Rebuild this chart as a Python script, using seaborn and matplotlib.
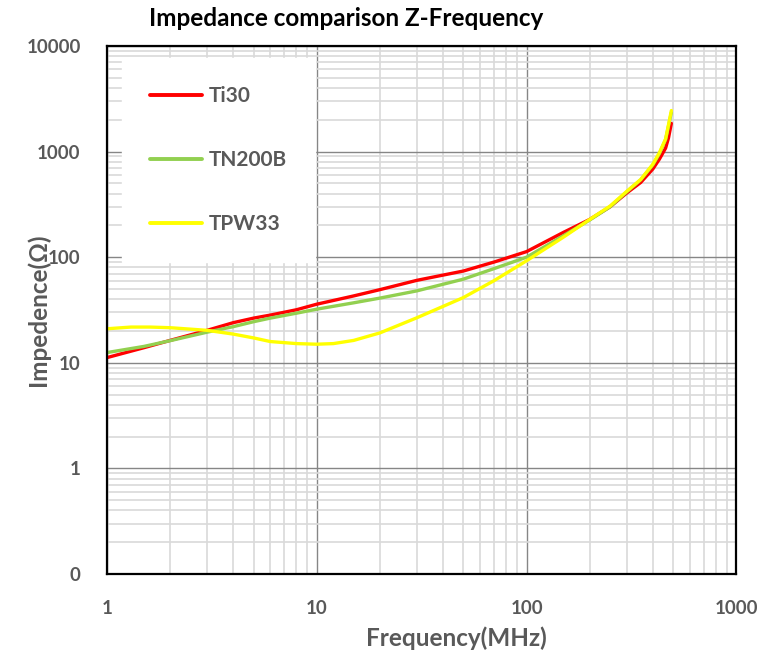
import numpy as np
import pandas as pd
import matplotlib
matplotlib.use("Agg")
import matplotlib.pyplot as plt
from matplotlib.ticker import FixedLocator, LogLocator, NullFormatter
import seaborn as sns

# Values (MHz, Ohm)
freq_ti30 = [1, 1.5, 2, 3, 4, 5, 6, 8, 10, 15, 20, 30, 50, 70, 100, 150, 200, 250, 300, 350, 400, 430, 460, 475, 490]
z_ti30 = [11.2, 13.9, 16.3, 20.3, 24.0, 26.5, 28.3, 31.8, 35.9, 43.0, 49.3, 60.4, 74.0, 90.0, 113, 172, 228, 300, 405, 510, 685, 850, 1080, 1350, 1850]

freq_tn200b = [1, 1.5, 2, 3, 4, 5, 6, 8, 10, 15, 20, 30, 50, 70, 100, 150, 200, 250, 300, 350, 400, 430, 460, 475, 490]
z_tn200b = [12.5, 14.3, 16.2, 19.5, 22.0, 24.5, 26.5, 29.5, 32.2, 37.0, 41.0, 48.0, 62.0, 78.0, 100, 160, 225, 300, 415, 540, 750, 960, 1300, 1750, 2350]

freq_tpw33 = [1, 1.3, 1.6, 2, 3, 4, 5, 6, 8, 10, 12, 15, 20, 30, 50, 70, 100, 150, 200, 250, 300, 350, 400, 430, 460, 475, 490]
z_tpw33 = [21.0, 21.8, 21.8, 21.5, 20.3, 18.7, 17.2, 15.9, 15.2, 15.0, 15.2, 16.3, 19.2, 26.7, 41.5, 60.0, 92.5, 155, 228, 305, 420, 545, 760, 980, 1320, 1800, 2450]

series_names = ["Ti30", "TN200B", "TPW33"]
series_colors = ["#FF0000", "#92D050", "#FFFF00"]

y_ticks = [0.1, 1, 10, 100, 1000, 10000]
y_tick_labels = ["0", "1", "10", "100", "1000", "10000"]
x_ticks = [1, 10, 100, 1000]
x_tick_labels = ["1", "10", "100", "1000"]

df = pd.concat([
    pd.DataFrame({"freq": freq_ti30, "z": z_ti30, "name": "Ti30"}),
    pd.DataFrame({"freq": freq_tn200b, "z": z_tn200b, "name": "TN200B"}),
    pd.DataFrame({"freq": freq_tpw33, "z": z_tpw33, "name": "TPW33"}),
])

sns.set_style("white")
plt.rcParams["font.family"] = ["Lato", "DejaVu Sans"]
plt.rcParams["font.weight"] = "bold"

fig = plt.figure(figsize=(7.61, 6.51), dpi=100)
ax = fig.add_axes([0.1406, 0.1183, 0.827, 0.811])

sns.lineplot(data=df, x="freq", y="z", hue="name", hue_order=series_names,
             palette=dict(zip(series_names, series_colors)), linewidth=2.4,
             sort=False, ax=ax, legend=False)

ax.set_xscale("log")
ax.set_yscale("log")
ax.set_xlim(1, 1000)
ax.set_ylim(0.1, 10000)

gray = "#595959"
ax.xaxis.set_major_locator(FixedLocator(x_ticks))
ax.yaxis.set_major_locator(FixedLocator(y_ticks))
ax.xaxis.set_minor_locator(LogLocator(base=10, subs=np.arange(2, 10)))
ax.yaxis.set_minor_locator(LogLocator(base=10, subs=np.arange(2, 10)))
ax.xaxis.set_minor_formatter(NullFormatter())
ax.yaxis.set_minor_formatter(NullFormatter())
ax.set_xticklabels(x_tick_labels, fontsize=13.5, fontweight="bold", color=gray)
ax.set_yticklabels(y_tick_labels, fontsize=13.5, fontweight="bold", color=gray)
ax.tick_params(axis="both", which="both", length=0)
ax.tick_params(axis="x", pad=19)
ax.tick_params(axis="y", pad=19)

ax.grid(True, which="major", color="#868686", linewidth=1.0)
ax.grid(True, which="minor", color="#d9d9d9", linewidth=1.2)
ax.set_axisbelow(True)

for side in ["left", "right", "top", "bottom"]:
    ax.spines[side].set_visible(True)
    ax.spines[side].set_color("black")
    ax.spines[side].set_linewidth(1.6)

ax.set_xlabel("")
ax.set_ylabel("")

handles = [plt.Line2D([], [], color=c, linewidth=2.8) for c in series_colors]
leg = ax.legend(handles, series_names, loc="upper left", bbox_to_anchor=(0.024, 0.977),
                borderaxespad=0, frameon=True, fancybox=False, framealpha=1, edgecolor="white",
                handlelength=2.5, handletextpad=0.3, labelspacing=2.1, borderpad=1.35,
                prop={"size": 15, "weight": "bold"})
for t in leg.get_texts():
    t.set_color(gray)

fig.text(0.455, 0.972, "Impedance comparison Z-Frequency", ha="center", va="center",
         fontsize=17.5, fontweight="bold", color="black")
fig.text(0.6, 0.02, "Frequency(MHz)", ha="center", va="center",
         fontsize=17.5, fontweight="bold", color=gray)
fig.text(0.05, 0.524, "Impedence(Ω)", ha="center", va="center", rotation=90,
         fontsize=17.5, fontweight="bold", color=gray)

fig.savefig("out.png", dpi=100)
